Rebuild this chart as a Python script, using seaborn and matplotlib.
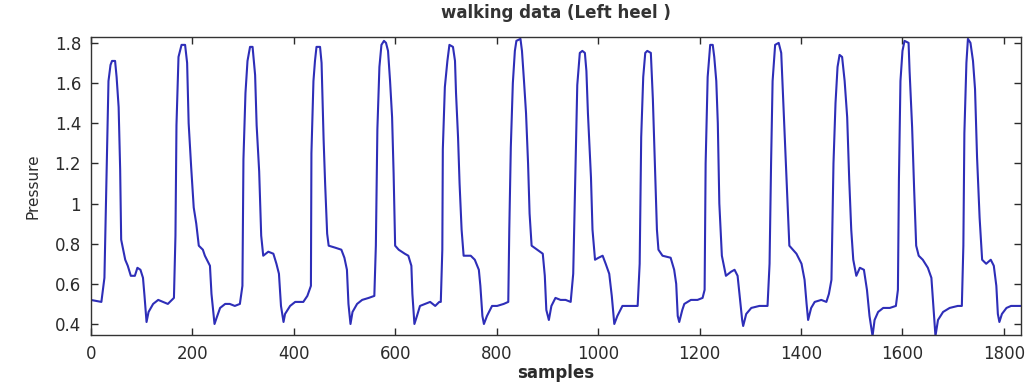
import numpy as np
import pandas as pd
import seaborn as sns
import matplotlib.pyplot as plt
from matplotlib.ticker import FuncFormatter

# Left-heel pressure trace: sample index and pressure level
samples = [
    0, 21, 27, 31, 35, 39, 42, 48, 51, 55, 58, 60, 64, 68, 73, 79, 87, 92, 98, 103,
    106, 110, 114, 123, 133, 152, 164, 167, 169, 173, 179, 186, 190, 193, 198, 203,
    208, 213, 221, 225, 235, 238, 244, 248, 255, 265, 274, 284, 294, 299, 301, 305,
    309, 314, 319, 324, 327, 332, 336, 340, 350, 360, 366, 371, 375, 380, 383, 393,
    403, 419, 427, 434, 435, 439, 442, 445, 452, 455, 459, 462, 466, 469, 482, 494,
    500, 505, 508, 512, 516, 525, 535, 548, 559, 562, 565, 569, 573, 578, 582, 586,
    590, 594, 597, 600, 607, 619, 626, 632, 634, 638, 643, 649, 659, 669, 679, 687,
    690, 693, 694, 698, 703, 707, 714, 718, 720, 724, 727, 731, 735, 749, 757, 765,
    768, 772, 775, 781, 791, 801, 814, 823, 825, 828, 832, 836, 839, 847, 850, 854,
    858, 862, 865, 869, 880, 891, 895, 898, 903, 908, 916, 926, 936, 946, 951, 955,
    959, 964, 969, 974, 977, 980, 986, 989, 994, 1001, 1009, 1015, 1022, 1027, 1032,
    1038, 1048, 1058, 1078, 1082, 1085, 1089, 1093, 1097, 1104, 1108, 1112, 1116,
    1119, 1127, 1143, 1150, 1154, 1157, 1160, 1166, 1170, 1183, 1196, 1206, 1210,
    1212, 1216, 1221, 1226, 1229, 1233, 1236, 1239, 1244, 1252, 1262, 1269, 1275,
    1279, 1284, 1286, 1292, 1302, 1318, 1334, 1338, 1341, 1344, 1349, 1356, 1361,
    1364, 1369, 1374, 1377, 1391, 1401, 1407, 1411, 1414, 1420, 1427, 1440, 1450,
    1455, 1460, 1464, 1468, 1472, 1476, 1481, 1486, 1491, 1495, 1499, 1503, 1509,
    1516, 1524, 1530, 1535, 1541, 1545, 1552, 1562, 1575, 1587, 1591, 1593, 1596,
    1600, 1604, 1612, 1614, 1619, 1623, 1627, 1632, 1640, 1650, 1657, 1662, 1665,
    1670, 1680, 1693, 1709, 1717, 1720, 1722, 1726, 1729, 1734, 1739, 1743, 1747,
    1752, 1757, 1765, 1774, 1780, 1785, 1788, 1791, 1796, 1805, 1814, 1833,
]
pressure = [
    0.52, 0.51, 0.63, 1.13, 1.61, 1.69, 1.71, 1.71, 1.63, 1.48, 1.17, 0.82, 0.77, 0.72, 0.69, 0.64, 0.64, 0.68, 0.67, 0.63,
    0.54, 0.41, 0.46, 0.50, 0.52, 0.50, 0.53, 0.84, 1.39, 1.73, 1.79, 1.79, 1.70, 1.40, 1.18, 0.98,
    0.90, 0.79, 0.77, 0.74, 0.69, 0.55, 0.40, 0.43, 0.48, 0.50, 0.50, 0.49, 0.50, 0.59, 1.22, 1.55,
    1.71, 1.78, 1.78, 1.64, 1.39, 1.16, 0.84, 0.74, 0.76, 0.75, 0.70, 0.65, 0.49, 0.41, 0.45, 0.49,
    0.51, 0.51, 0.54, 0.59, 1.25, 1.61, 1.71, 1.78, 1.78, 1.70, 1.32, 1.10, 0.85, 0.79, 0.78, 0.77,
    0.73, 0.67, 0.50, 0.40, 0.46, 0.50, 0.52, 0.53, 0.54, 0.79, 1.37, 1.68, 1.79, 1.81, 1.80, 1.76,
    1.61, 1.43, 1.15, 0.79, 0.77, 0.75, 0.74, 0.69, 0.55, 0.40, 0.44, 0.49, 0.50, 0.51, 0.49, 0.51,
    0.51, 0.77, 1.27, 1.58, 1.71, 1.79, 1.78, 1.71, 1.55, 1.33, 1.10, 0.87, 0.74, 0.74, 0.72, 0.67,
    0.59, 0.44, 0.40, 0.44, 0.49, 0.49, 0.50, 0.51, 0.87, 1.28, 1.60, 1.76, 1.81, 1.82, 1.76, 1.61,
    1.45, 1.20, 0.95, 0.79, 0.77, 0.75, 0.64, 0.47, 0.42, 0.49, 0.53, 0.52, 0.52, 0.51, 0.65, 1.13,
    1.59, 1.75, 1.76, 1.75, 1.66, 1.45, 1.13, 0.87, 0.72, 0.73, 0.74, 0.70, 0.65, 0.54, 0.40,
    0.44, 0.49, 0.49, 0.49, 0.70, 1.33, 1.63, 1.75, 1.76, 1.75, 1.52, 1.20, 0.87,
    0.77, 0.74, 0.73, 0.67, 0.60, 0.44, 0.41, 0.47, 0.50, 0.52, 0.52, 0.53, 0.57,
    1.20, 1.63, 1.79, 1.79, 1.73, 1.61, 1.40, 1.00, 0.74, 0.64, 0.66, 0.67, 0.64,
    0.54, 0.42, 0.39, 0.45, 0.48, 0.49, 0.49, 0.70, 1.20, 1.61, 1.79, 1.80, 1.75,
    1.57, 1.28, 0.98, 0.79, 0.75, 0.70, 0.62, 0.50, 0.42, 0.48, 0.51, 0.52, 0.51,
    0.55, 0.62, 1.20, 1.50, 1.68, 1.74, 1.73, 1.61, 1.43, 1.12, 0.87, 0.72, 0.64,
    0.68, 0.67, 0.57, 0.44, 0.34, 0.42, 0.46, 0.48, 0.48, 0.49, 0.57, 1.12, 1.61,
    1.76, 1.81, 1.80, 1.66, 1.38, 1.07, 0.79, 0.74, 0.72, 0.68, 0.63, 0.45, 0.34,
    0.42, 0.46, 0.48, 0.49, 0.49, 0.79, 1.35, 1.70, 1.82, 1.80, 1.71, 1.57, 1.23,
    0.93, 0.72, 0.70, 0.72, 0.69, 0.59, 0.45, 0.41, 0.45, 0.48, 0.49, 0.49,
]

x_ticks = [0, 200, 400, 600, 800, 1000, 1200, 1400, 1600, 1800]
y_ticks = [0.4, 0.6, 0.8, 1.0, 1.2, 1.4, 1.6, 1.8]

sns.set_theme(style="ticks")
plt.rcParams["font.family"] = ["DejaVu Sans"]

df = pd.DataFrame({"samples": samples, "Pressure": pressure})

fig = plt.figure(figsize=(10.31, 3.86), dpi=100)
ax = fig.add_axes([0.088, 0.132, 0.902, 0.771])

sns.lineplot(data=df, x="samples", y="Pressure", ax=ax, color="#2e2eb8",
             linewidth=1.5, estimator=None, sort=False)

ax.set_xlim(0, 1833)
ax.set_ylim(0.345, 1.827)
ax.set_xticks(x_ticks)
ax.set_yticks(y_ticks)
ax.yaxis.set_major_formatter(FuncFormatter(lambda v, _: f"{v:g}"))

text_color = "#2b2b2b"
ax.tick_params(direction="in", top=True, right=True, length=5, width=1,
               labelsize=12, pad=7, colors=text_color)
for spine in ax.spines.values():
    spine.set_visible(True)
    spine.set_color("#333333")
    spine.set_linewidth(1.0)

ax.set_title("walking data (Left heel )", fontsize=12, fontweight="bold",
             color="#333333", pad=14)
ax.set_xlabel("samples", fontsize=12, fontweight="bold", color=text_color, labelpad=1)
ax.set_ylabel("Pressure", fontsize=11, color=text_color, labelpad=10)

fig.savefig("out.png", dpi=100, facecolor="white")
